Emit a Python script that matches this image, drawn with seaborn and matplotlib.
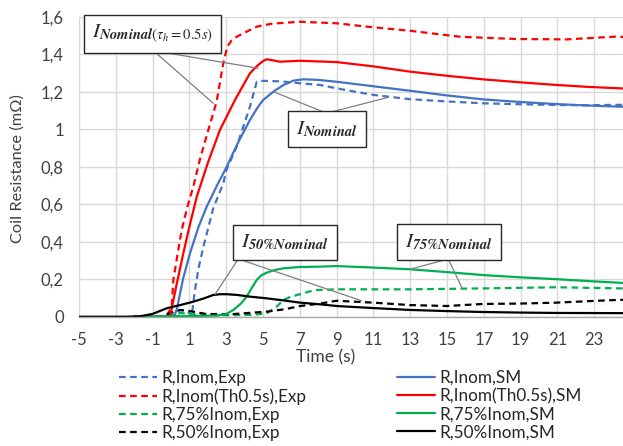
import matplotlib
matplotlib.use("Agg")
import matplotlib.pyplot as plt
import seaborn as sns
import pandas as pd

# ---------------- data ----------------
t_inom_exp = [-2.0, -0.3, 0.2, 0.6, 1.0, 1.12, 1.3, 1.5, 1.76, 2.3, 2.84, 3.0, 3.57, 4.29, 4.66, 5.0, 6.0, 7.01, 8.1, 9.0, 10.0, 11.0, 12.99, 15.0, 16.97, 19.0, 20.96, 22.5, 24.4, 24.6]
r_inom_exp = [0.0, 0.0, 0.03, 0.035, 0.02, 0.0, 0.14, 0.26, 0.373, 0.58, 0.71, 0.78, 0.907, 1.12, 1.253, 1.258, 1.255, 1.245, 1.236, 1.218, 1.2, 1.183, 1.16, 1.148, 1.138, 1.133, 1.129, 1.128, 1.13, 1.13]

t_th_exp = [-2.0, -0.27, 0.04, 0.125, 0.3, 0.58, 0.9, 1.21, 1.6, 2.03, 2.48, 2.84, 3.06, 3.3, 3.57, 4.0, 4.66, 5.5, 7.01, 9.0, 10.64, 12.99, 15.71, 18.79, 21.5, 24.4, 24.6]
r_th_exp = [0.0, 0.0, 0.053, 0.196, 0.3, 0.462, 0.59, 0.693, 0.85, 0.996, 1.147, 1.351, 1.44, 1.475, 1.493, 1.515, 1.547, 1.563, 1.573, 1.565, 1.547, 1.525, 1.493, 1.481, 1.479, 1.495, 1.49]

t_75_exp = [-2.0, -0.2, 0.5, 1.5, 3.0, 4.5, 5.2, 5.74, 6.1, 6.5, 7.01, 7.5, 7.92, 9.0, 12.99, 16.97, 20.96, 24.4, 24.6]
r_75_exp = [0.0, 0.0, 0.02, 0.01, 0.008, 0.01, 0.018, 0.053, 0.089, 0.106, 0.12, 0.134, 0.142, 0.146, 0.146, 0.151, 0.157, 0.151, 0.151]

t_50_exp = [-2.0, -0.5, -0.05, 0.49, 1.0, 1.94, 3.39, 5.2, 6.2, 7.01, 8.1, 9.0, 10.99, 12.99, 14.98, 16.97, 18.97, 20.96, 22.93, 24.4, 24.6]
r_50_exp = [0.0, 0.0, 0.02, 0.036, 0.03, 0.014, 0.014, 0.027, 0.04, 0.057, 0.07, 0.085, 0.075, 0.062, 0.057, 0.068, 0.07, 0.075, 0.084, 0.09, 0.09]

t_inom_sm = [-2.0, 0.15, 0.31, 0.65, 1.03, 1.5, 1.94, 2.5, 3.03, 3.6, 4.29, 4.7, 5.0, 5.56, 6.1, 6.65, 7.19, 8.0, 9.0, 10.5, 12.99, 15.0, 16.97, 19.0, 20.96, 22.5, 24.4, 24.6]
r_inom_sm = [0.0, 0.0, 0.036, 0.2, 0.338, 0.48, 0.587, 0.7, 0.8, 0.92, 1.049, 1.115, 1.155, 1.2, 1.235, 1.259, 1.266, 1.263, 1.253, 1.235, 1.205, 1.18, 1.159, 1.145, 1.134, 1.127, 1.12, 1.12]

t_th_sm = [-2.0, -0.05, 0.3, 0.67, 1.0, 1.4, 2.0, 2.66, 3.5, 4.29, 4.6, 4.84, 5.05, 5.2, 5.5, 5.92, 7.01, 9.0, 11.0, 12.99, 14.98, 16.96, 18.97, 20.96, 22.6, 24.4, 24.6]
r_th_sm = [0.0, 0.0, 0.17, 0.338, 0.48, 0.64, 0.82, 0.996, 1.16, 1.298, 1.33, 1.351, 1.366, 1.373, 1.368, 1.36, 1.365, 1.358, 1.335, 1.307, 1.285, 1.266, 1.25, 1.236, 1.226, 1.218, 1.217]

t_75_sm = [-2.0, 0.0, 1.5, 2.5, 3.0, 3.39, 3.8, 4.11, 4.4, 4.66, 4.9, 5.2, 5.6, 6.1, 7.0, 8.1, 9.0, 11.0, 12.99, 14.98, 16.97, 18.97, 20.96, 22.7, 24.4, 24.6]
r_75_sm = [0.0, 0.003, 0.004, 0.006, 0.014, 0.036, 0.07, 0.107, 0.155, 0.196, 0.22, 0.235, 0.248, 0.258, 0.265, 0.267, 0.27, 0.262, 0.253, 0.238, 0.222, 0.21, 0.2, 0.19, 0.181, 0.18]

t_50_sm = [-5.0, -2.5, -1.68, -1.0, -0.23, 0.5, 1.21, 1.8, 2.3, 2.7, 3.03, 3.6, 4.29, 5.2, 6.1, 7.01, 8.1, 9.0, 11.0, 12.99, 14.98, 16.97, 18.97, 20.96, 24.4, 24.6]
r_50_sm = [0.0, 0.0, 0.002, 0.015, 0.045, 0.062, 0.08, 0.098, 0.116, 0.12, 0.12, 0.116, 0.107, 0.098, 0.087, 0.075, 0.066, 0.057, 0.046, 0.036, 0.03, 0.025, 0.022, 0.02, 0.019, 0.019]

series = [
    ("R,Inom,Exp", t_inom_exp, r_inom_exp, "#4472C4", True),
    ("R,Inom(Th0.5s),Exp", t_th_exp, r_th_exp, "#FF0000", True),
    ("R,75%Inom,Exp", t_75_exp, r_75_exp, "#00B050", True),
    ("R,50%Inom,Exp", t_50_exp, r_50_exp, "#000000", True),
    ("R,Inom,SM", t_inom_sm, r_inom_sm, "#4472C4", False),
    ("R,Inom(Th0.5s),SM", t_th_sm, r_th_sm, "#FF0000", False),
    ("R,75%Inom,SM", t_75_sm, r_75_sm, "#00B050", False),
    ("R,50%Inom,SM", t_50_sm, r_50_sm, "#000000", False),
]

y_ticks = [0, 0.2, 0.4, 0.6, 0.8, 1.0, 1.2, 1.4, 1.6]
y_tick_labels = ["0", "0,2", "0,4", "0,6", "0,8", "1", "1,2", "1,4", "1,6"]
x_ticks = list(range(-5, 24, 2))

# ---------------- figure ----------------
sns.set_theme(style="white")
plt.rcParams["font.family"] = ["Lato", "DejaVu Sans"]
plt.rcParams["mathtext.fontset"] = "stix"

W, H = 623, 446
fig = plt.figure(figsize=(W / 100, H / 100), dpi=100)
left_px, right_px, top_px, bot_px = 79, 623, 16.7, 316.7
ax = fig.add_axes([left_px / W, 1 - bot_px / H, (right_px - left_px) / W, (bot_px - top_px) / H])

handles = []
for label, tt, rr, col, dashed in series:
    df = pd.DataFrame({"t": tt, "R": rr})
    kw = dict(linestyle=(0, (3, 2))) if dashed else dict(linestyle="-")
    sns.lineplot(data=df, x="t", y="R", ax=ax, color=col, linewidth=1.6,
                 estimator=None, sort=False, label=label, **kw)
    handles.append(ax.get_lines()[-1])

ax.set_xlim(-5, -5 + (right_px - left_px) / 18.4)
ax.set_ylim(0, 1.6)
ax.set_xticks(x_ticks)
ax.set_xticklabels([str(v) for v in x_ticks])
ax.set_yticks(y_ticks)
ax.set_yticklabels(y_tick_labels)
ax.grid(True, color="#D9D9D9", linewidth=1.0)
ax.set_axisbelow(True)
for s in ["top", "right", "left"]:
    ax.spines[s].set_visible(False)
ax.spines["bottom"].set_color("#A6A6A6")
ax.spines["bottom"].set_linewidth(1.0)
ax.tick_params(axis="both", length=0, labelsize=12, colors="#404040")
ax.tick_params(axis="y", pad=11)
ax.tick_params(axis="x", pad=11)

ax.set_xlabel("Time (s)", fontsize=12.5, color="#404040", va="center")
ax.xaxis.set_label_coords((326 - left_px) / (right_px - left_px), (bot_px - 357) / (bot_px - top_px))
ax.set_ylabel("Coil Resistance (mΩ)", fontsize=11.8, color="#404040", va="center")
ax.yaxis.set_label_coords((18 - left_px) / (right_px - left_px), 0.494)

if ax.get_legend() is not None:
    ax.get_legend().remove()

leg_kw = dict(loc="upper left", frameon=False, fontsize=12.3, handlelength=2.2,
              handletextpad=0.3, labelspacing=0.12, borderpad=0, borderaxespad=0,
              labelcolor="#262626")
leg1 = fig.legend(handles=handles[:4], labels=[s[0] for s in series[:4]],
                  bbox_to_anchor=(119 / W, 1 - 370 / H), **leg_kw)
leg2 = fig.legend(handles=handles[4:], labels=[s[0] for s in series[4:]],
                  bbox_to_anchor=(397 / W, 1 - 370 / H), **leg_kw)

# ---------------- annotations ----------------
box = dict(boxstyle="square,pad=0.38", facecolor="white", edgecolor="#262626", linewidth=1.0)
line_kw = dict(arrowstyle="-", color="#7F7F7F", linewidth=0.9, shrinkA=0, shrinkB=0)

ann = [
    (r"$I_{\mathbfit{Nominal}(\tau_h=0.5s)}$", (-1.0, 1.508), (-0.96, 1.419), [(2.3, 1.138), (4.74, 1.325)]),
    (r"$I_{\mathbfit{Nominal}}$", (8.5, 1.0), (8.46, 1.085), [(5.56, 1.2), (11.81, 1.17)]),
    (r"$I_{\mathbfit{50\%Nominal}}$", (6.2, 0.396), (3.66, 0.308), [(2.39, 0.119), (10.36, 0.085)]),
    (r"$I_{\mathbfit{75\%Nominal}}$", (15.1, 0.398), (15.07, 0.308), [(12.99, 0.253), (15.83, 0.151)]),
]
for txt, center, anchor, ends in ann:
    for e in ends:
        ax.annotate("", xy=e, xytext=anchor, arrowprops=line_kw, zorder=5)
    ax.text(center[0], center[1], txt, ha="center", va="center", fontsize=15,
            color="#262626", bbox=box, zorder=6)

fig.savefig("out.png", dpi=100)
